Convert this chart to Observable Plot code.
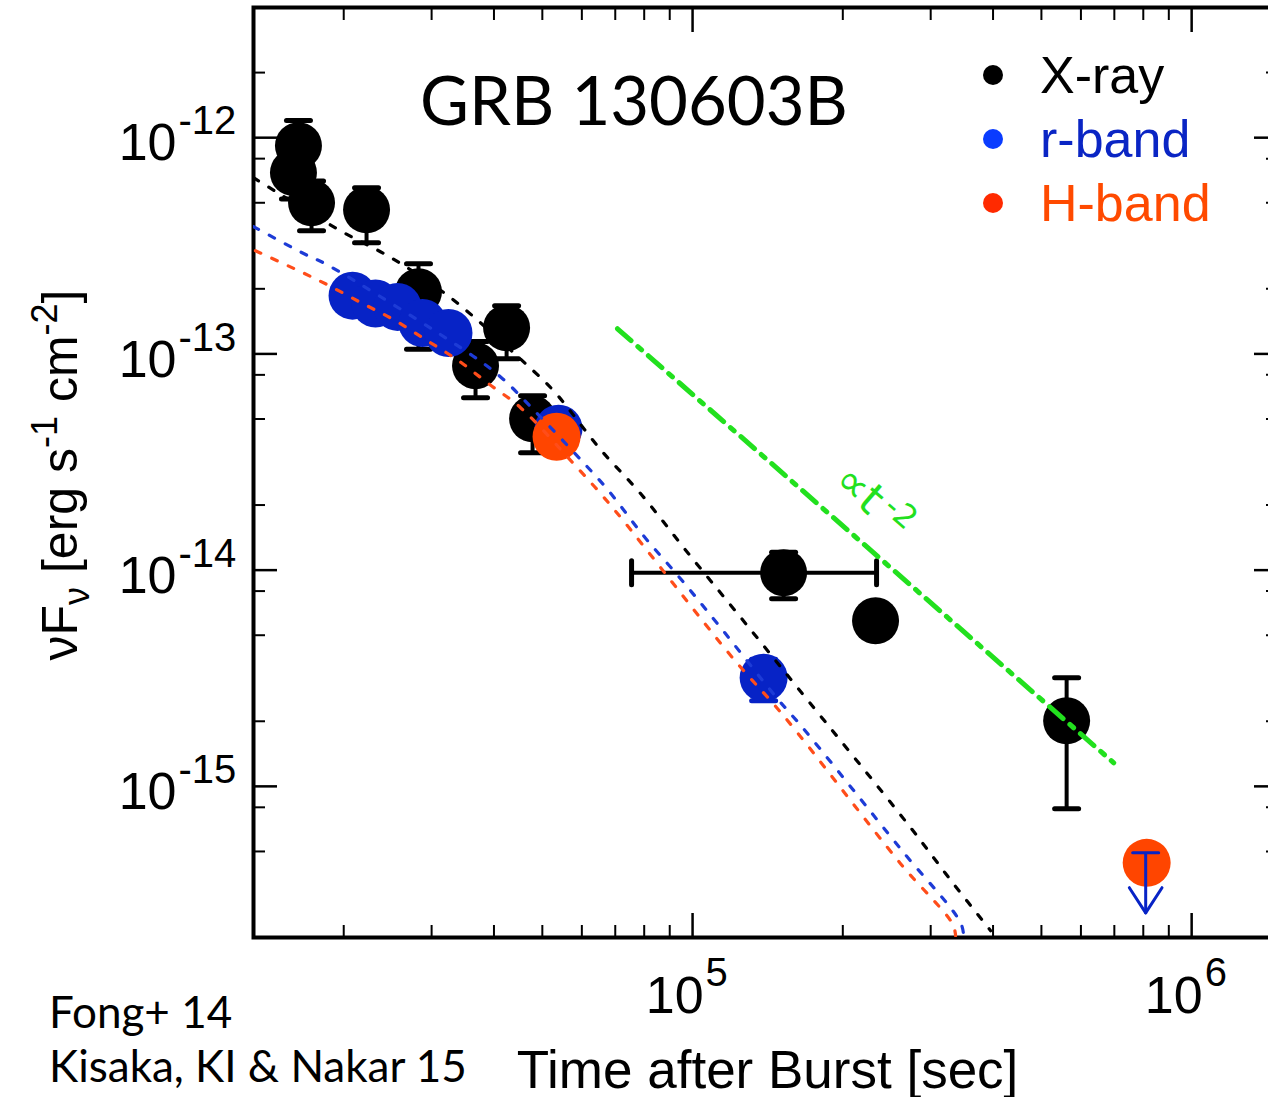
<!DOCTYPE html>
<html>
<head>
<meta charset="utf-8">
<script src="https://cdn.jsdelivr.net/npm/d3@7"></script>
<script src="https://cdn.jsdelivr.net/npm/@observablehq/plot@0.6"></script>
<style>
  body { margin: 0; background: #fff; }
  #wrap { position: relative; width: 1268px; height: 1097px; overflow: hidden; }
</style>
</head>
<body>
<div id="wrap"></div>
<script>
// ---------------- data ----------------
// X-ray (black)
const xrayTime    = [16230, 15860, 17240, 22220, 28240, 42400, 36740, 47800, 152200, 232600, 561700];
const xrayFlux    = [9.18e-13, 6.89e-13, 5.0e-13, 4.64e-13, 1.94e-13, 1.32e-13, 8.82e-14, 5.01e-14, 9.73e-15, 5.83e-15, 2.01e-15];
const xrayFluxHi  = [1.20e-12, 8.6e-13, 6.3e-13, 5.87e-13, 2.61e-13, 1.67e-13, 1.14e-13, 6.41e-14, 1.21e-14, null, 3.18e-15];
const xrayFluxLo  = [6.4e-13, 5.2e-13, 3.71e-13, 3.27e-13, 1.05e-13, 9.5e-14, 6.27e-14, 3.49e-14, 7.38e-15, null, 7.88e-16];
const xrayTimeLo  = [null, null, null, null, null, null, null, null, 75470, null, null];
const xrayTimeHi  = [null, null, null, null, null, null, null, null, 233700, null, null];

// r-band (blue)
const rTime   = [20830, 23160, 25630, 28770, 32430, 53880, 138800];
const rFlux   = [1.86e-13, 1.71e-13, 1.65e-13, 1.39e-13, 1.25e-13, 4.51e-14, 3.18e-15];
const rFluxHi = [null, null, null, null, null, null, 3.87e-15];
const rFluxLo = [null, null, null, null, null, null, 2.49e-15];
// r-band upper limit
const rLimitTime = [808900];
const rLimitFlux = [4.93e-16];
const rLimitTip  = [2.60e-16];

// H-band (orange)
const hTime = [53390, 812600];
const hFlux = [4.14e-14, 4.43e-16];

// model curves (dotted), sampled from the figure
const modelXTime = [13190, 19710, 25050, 32730, 46270, 52650, 65410, 78670, 98170, 123100, 162300, 269700, 333400, 395600];
const modelXFlux = [6.53e-13, 3.71e-13, 2.76e-13, 1.82e-13, 9.01e-14, 6.76e-14, 3.61e-14, 2.26e-14, 1.19e-14, 6.29e-15, 2.86e-15, 6.71e-16, 3.54e-16, 2.15e-16];
const modelRTime = [13190, 16930, 18390, 36230, 41620, 47790, 60460, 67880, 79790, 94620, 112200, 148000, 166100, 261100, 344400, 349200];
const modelRFlux = [3.88e-13, 2.85e-13, 2.61e-13, 9.81e-14, 7.68e-14, 5.58e-14, 3.14e-14, 2.33e-14, 1.44e-14, 9.12e-15, 5.65e-15, 2.54e-15, 1.87e-15, 5.14e-16, 2.34e-16, 2.04e-16];
const modelHTime = [13310, 15790, 18390, 21610, 25170, 29430, 33970, 39020, 45230, 57740, 65410, 72710, 120300, 152200, 261100, 331900, 336500];
const modelHFlux = [3.0e-13, 2.50e-13, 2.11e-13, 1.73e-13, 1.44e-13, 1.15e-13, 9.30e-14, 7.28e-14, 5.64e-14, 3.11e-14, 2.26e-14, 1.69e-14, 3.93e-15, 2.12e-15, 4.39e-16, 2.31e-16, 2.04e-16];

// t^-2 guide line
const guideTime = [70730, 698000];
const guideFlux = [1.307e-13, 1.285e-15];
const guideLabelTime = [190000];
const guideLabelFlux = [2.5e-14];
const guideLabelText = ["∝t"];
const guideLabelExp = ["-2"];

// ticks
const xMajor = [1e5, 1e6];
const xMinor = [2e4, 3e4, 4e4, 5e4, 6e4, 7e4, 8e4, 9e4, 2e5, 3e5, 4e5, 5e5, 6e5, 7e5, 8e5, 9e5];
const yMajor = [1e-15, 1e-14, 1e-13, 1e-12];
const yMinor = [5e-16, 8e-16, 2e-15, 5e-15, 8e-15, 2e-14, 5e-14, 8e-14, 2e-13, 5e-13, 8e-13, 2e-12];

// text
const legendLabels = ["X-ray", "r-band", "H-band"];
const titleText = "GRB 130603B";
const captionLines = ["Fong+ 14", "Kisaka, KI & Nakar 15"];
const xTitle = "Time after Burst [sec]";

// ---------------- build ----------------
const BLUE = "#0723c6", ORANGE = "#ff4500", GREEN = "#22e01e";
const BLUE_LINE = "#1d3bd6", ORANGE_LINE = "#ff4d1a";
const legendColors = ["#000000", "#0a3cff", "#ff2a00"];
const legendTextColors = ["#000000", "#0a25c4", "#ff4a00"];

const xray = xrayTime.map((t, i) => ({t, f: xrayFlux[i], hi: xrayFluxHi[i], lo: xrayFluxLo[i], tlo: xrayTimeLo[i], thi: xrayTimeHi[i]}));
const rband = rTime.map((t, i) => ({t, f: rFlux[i], hi: rFluxHi[i], lo: rFluxLo[i]}));
const hband = hTime.map((t, i) => ({t, f: hFlux[i]}));
const rLimit = rLimitTime.map((t, i) => ({t, f: rLimitFlux[i], tip: rLimitTip[i]}));
const mX = modelXTime.map((t, i) => ({t, f: modelXFlux[i]}));
const mR = modelRTime.map((t, i) => ({t, f: modelRFlux[i]}));
const mH = modelHTime.map((t, i) => ({t, f: modelHFlux[i]}));
const guide = guideTime.map((t, i) => ({t, f: guideFlux[i]}));
const guideLabel = guideLabelTime.map((t, i) => ({t, f: guideLabelFlux[i], text: guideLabelText[i], exp: guideLabelExp[i]}));

const seg = {draw(ctx, l) { ctx.moveTo(0, 0); ctx.lineTo(0, -l); }};
const vErr = (data, color) => [
  Plot.ruleX(data.filter(d => d.hi != null), {x: "t", y1: "lo", y2: "hi", stroke: color, strokeWidth: 4}),
  Plot.vector(data.filter(d => d.hi != null), {x: "t", y: "hi", rotate: 90, length: 24, anchor: "middle", shape: seg, stroke: color, strokeWidth: 5}),
  Plot.vector(data.filter(d => d.lo != null), {x: "t", y: "lo", rotate: 90, length: 24, anchor: "middle", shape: seg, stroke: color, strokeWidth: 5})
];
const expFmt = d => String(Math.round(Math.log10(d)));
const tickCommon = {fill: "none", stroke: "black", label: null};

const plot = Plot.plot({
  width: 1268,
  height: 1097,
  marginLeft: 253,
  marginRight: -9,
  marginTop: 7,
  marginBottom: 160,
  x: {type: "log", domain: [13190, 1.486e6], label: null},
  y: {type: "log", domain: [2.0e-16, 4.0e-12], label: null},
  style: {fontFamily: "'Liberation Sans', Arial, Helvetica, sans-serif", background: "white", color: "black"},
  marks: [
    // ticks (inward)
    Plot.axisX(xMajor, {...tickCommon, anchor: "bottom", tickSize: -24, strokeWidth: 2.5}),
    Plot.axisX(xMinor, {...tickCommon, anchor: "bottom", tickSize: -12, strokeWidth: 2}),
    Plot.axisX(xMajor, {...tickCommon, anchor: "top", tickSize: -24, strokeWidth: 2.5}),
    Plot.axisX(xMinor, {...tickCommon, anchor: "top", tickSize: -12, strokeWidth: 2}),
    Plot.axisY(yMajor, {...tickCommon, anchor: "left", tickSize: -24, strokeWidth: 2.5}),
    Plot.axisY(yMinor, {...tickCommon, anchor: "left", tickSize: -12, strokeWidth: 2}),
    Plot.axisY(yMajor, {...tickCommon, anchor: "right", tickSize: -24, strokeWidth: 2.5}),
    Plot.axisY(yMinor, {...tickCommon, anchor: "right", tickSize: -12, strokeWidth: 2}),
    // tick labels 10^n
    Plot.axisX(xMajor, {anchor: "bottom", tickSize: 0, tickPadding: 39, tickFormat: () => "10", textAnchor: "end", dx: 11, fontSize: 52, stroke: "none", label: null}),
    Plot.axisX(xMajor, {anchor: "bottom", tickSize: 0, tickPadding: 20, tickFormat: expFmt, textAnchor: "start", dx: 13, fontSize: 40, stroke: "none", label: null}),
    Plot.axisY(yMajor, {anchor: "left", tickSize: 0, tickPadding: 77, tickFormat: () => "10", textAnchor: "end", dy: 6, fontSize: 52, stroke: "none", label: null}),
    Plot.axisY(yMajor, {anchor: "left", tickSize: 0, tickPadding: 75, tickFormat: expFmt, textAnchor: "start", dy: -16, fontSize: 40, stroke: "none", label: null}),
    // frame
    Plot.frame({stroke: "black", strokeWidth: 4}),
    // x-axis title
    Plot.text([xTitle], {frameAnchor: "bottom", text: d => d, dy: 150, dx: 2, fontSize: 53}),
    // X-ray error bars + points
    ...vErr(xray, "black"),
    Plot.ruleY(xray.filter(d => d.tlo != null), {y: "f", x1: "tlo", x2: "thi", stroke: "black", strokeWidth: 4}),
    Plot.vector(xray.filter(d => d.tlo != null), {x: "tlo", y: "f", length: 24, anchor: "middle", shape: seg, stroke: "black", strokeWidth: 5}),
    Plot.vector(xray.filter(d => d.thi != null), {x: "thi", y: "f", length: 24, anchor: "middle", shape: seg, stroke: "black", strokeWidth: 5}),
    Plot.dot(xray, {x: "t", y: "f", r: 23.5, fill: "black"}),
    // r-band
    ...vErr(rband, BLUE),
    Plot.dot(rband, {x: "t", y: "f", r: 24, fill: BLUE}),
    // H-band
    Plot.dot(hband, {x: "t", y: "f", r: 24, fill: ORANGE}),
    // r-band upper limit arrow
    Plot.ruleX(rLimit, {x: "t", y1: "f", y2: "tip", stroke: BLUE, strokeWidth: 3}),
    Plot.vector(rLimit, {x: "t", y: "f", rotate: 90, length: 26, anchor: "middle", shape: seg, stroke: BLUE, strokeWidth: 3}),
    Plot.vector(rLimit, {x: "t", y: "tip", rotate: -33, length: 30, anchor: "start", shape: seg, stroke: BLUE, strokeWidth: 3}),
    Plot.vector(rLimit, {x: "t", y: "tip", rotate: 33, length: 30, anchor: "start", shape: seg, stroke: BLUE, strokeWidth: 3}),
    // model curves
    Plot.line(mX, {x: "t", y: "f", stroke: "black", strokeWidth: 3.2, strokeDasharray: "6,12", curve: "catmull-rom", clip: true}),
    Plot.line(mR, {x: "t", y: "f", stroke: BLUE_LINE, strokeWidth: 3.2, strokeDasharray: "6,12", curve: "catmull-rom", clip: true}),
    Plot.line(mH, {x: "t", y: "f", stroke: ORANGE_LINE, strokeWidth: 3.2, strokeDasharray: "6,12", curve: "catmull-rom", clip: true}),
    // t^-2 guide
    Plot.line(guide, {x: "t", y: "f", stroke: GREEN, strokeWidth: 5, strokeDasharray: "18,9,5,9"}),
    Plot.text(guideLabel, {x: "t", y: "f", text: "text", rotate: 41, textAnchor: "start", lineAnchor: "bottom", fontSize: 44, fill: GREEN, fontFamily: "'DejaVu Sans', sans-serif"}),
    Plot.text(guideLabel, {x: "t", y: "f", text: "exp", rotate: 41, textAnchor: "start", lineAnchor: "bottom", fontSize: 32, dx: 50, dy: 26, fill: GREEN, fontFamily: "'DejaVu Sans', sans-serif"})
  ]
});

const svg = d3.select(plot);

// y-axis title with sub/superscripts
const yt = svg.append("text")
  .attr("transform", "translate(77,475) rotate(-90)")
  .attr("text-anchor", "middle")
  .attr("fill", "black")
  .style("font-family", "'Liberation Sans', Arial, sans-serif")
  .style("font-size", "50px");
yt.append("tspan").text("νF");
yt.append("tspan").attr("dy", 12).style("font-size", "36px").text("ν");
yt.append("tspan").attr("dy", -12).text(" [erg s");
yt.append("tspan").attr("dy", -20).style("font-size", "36px").text("-1");
yt.append("tspan").attr("dy", 20).text(" cm");
yt.append("tspan").attr("dy", -20).style("font-size", "36px").text("-2");
yt.append("tspan").attr("dy", 20).text("]");

// title
svg.append("text").attr("x", 420).attr("y", 125).attr("text-anchor", "start")
  .style("font-family", "Lato, 'Open Sans', sans-serif").style("font-size", "67px")
  .attr("fill", "black").text(titleText);

// legend
const lg = svg.append("g");
legendLabels.forEach((lab, i) => {
  const cy = 75 + i * 64;
  lg.append("circle").attr("cx", 993).attr("cy", cy).attr("r", 10).attr("fill", legendColors[i]);
  lg.append("text").attr("x", 1040).attr("y", cy + 18).attr("text-anchor", "start")
    .style("font-family", "'Liberation Sans', Arial, sans-serif").style("font-size", "52px")
    .attr("fill", legendTextColors[i]).text(lab);
});

// caption
captionLines.forEach((line, i) => {
  svg.append("text").attr("x", 49).attr("y", 1028 + i * 54).attr("text-anchor", "start")
    .style("font-family", "Lato, 'Open Sans', sans-serif").style("font-size", "44px")
    .attr("fill", "black").text(line);
});

document.getElementById("wrap").appendChild(plot);
</script>
</body>
</html>
